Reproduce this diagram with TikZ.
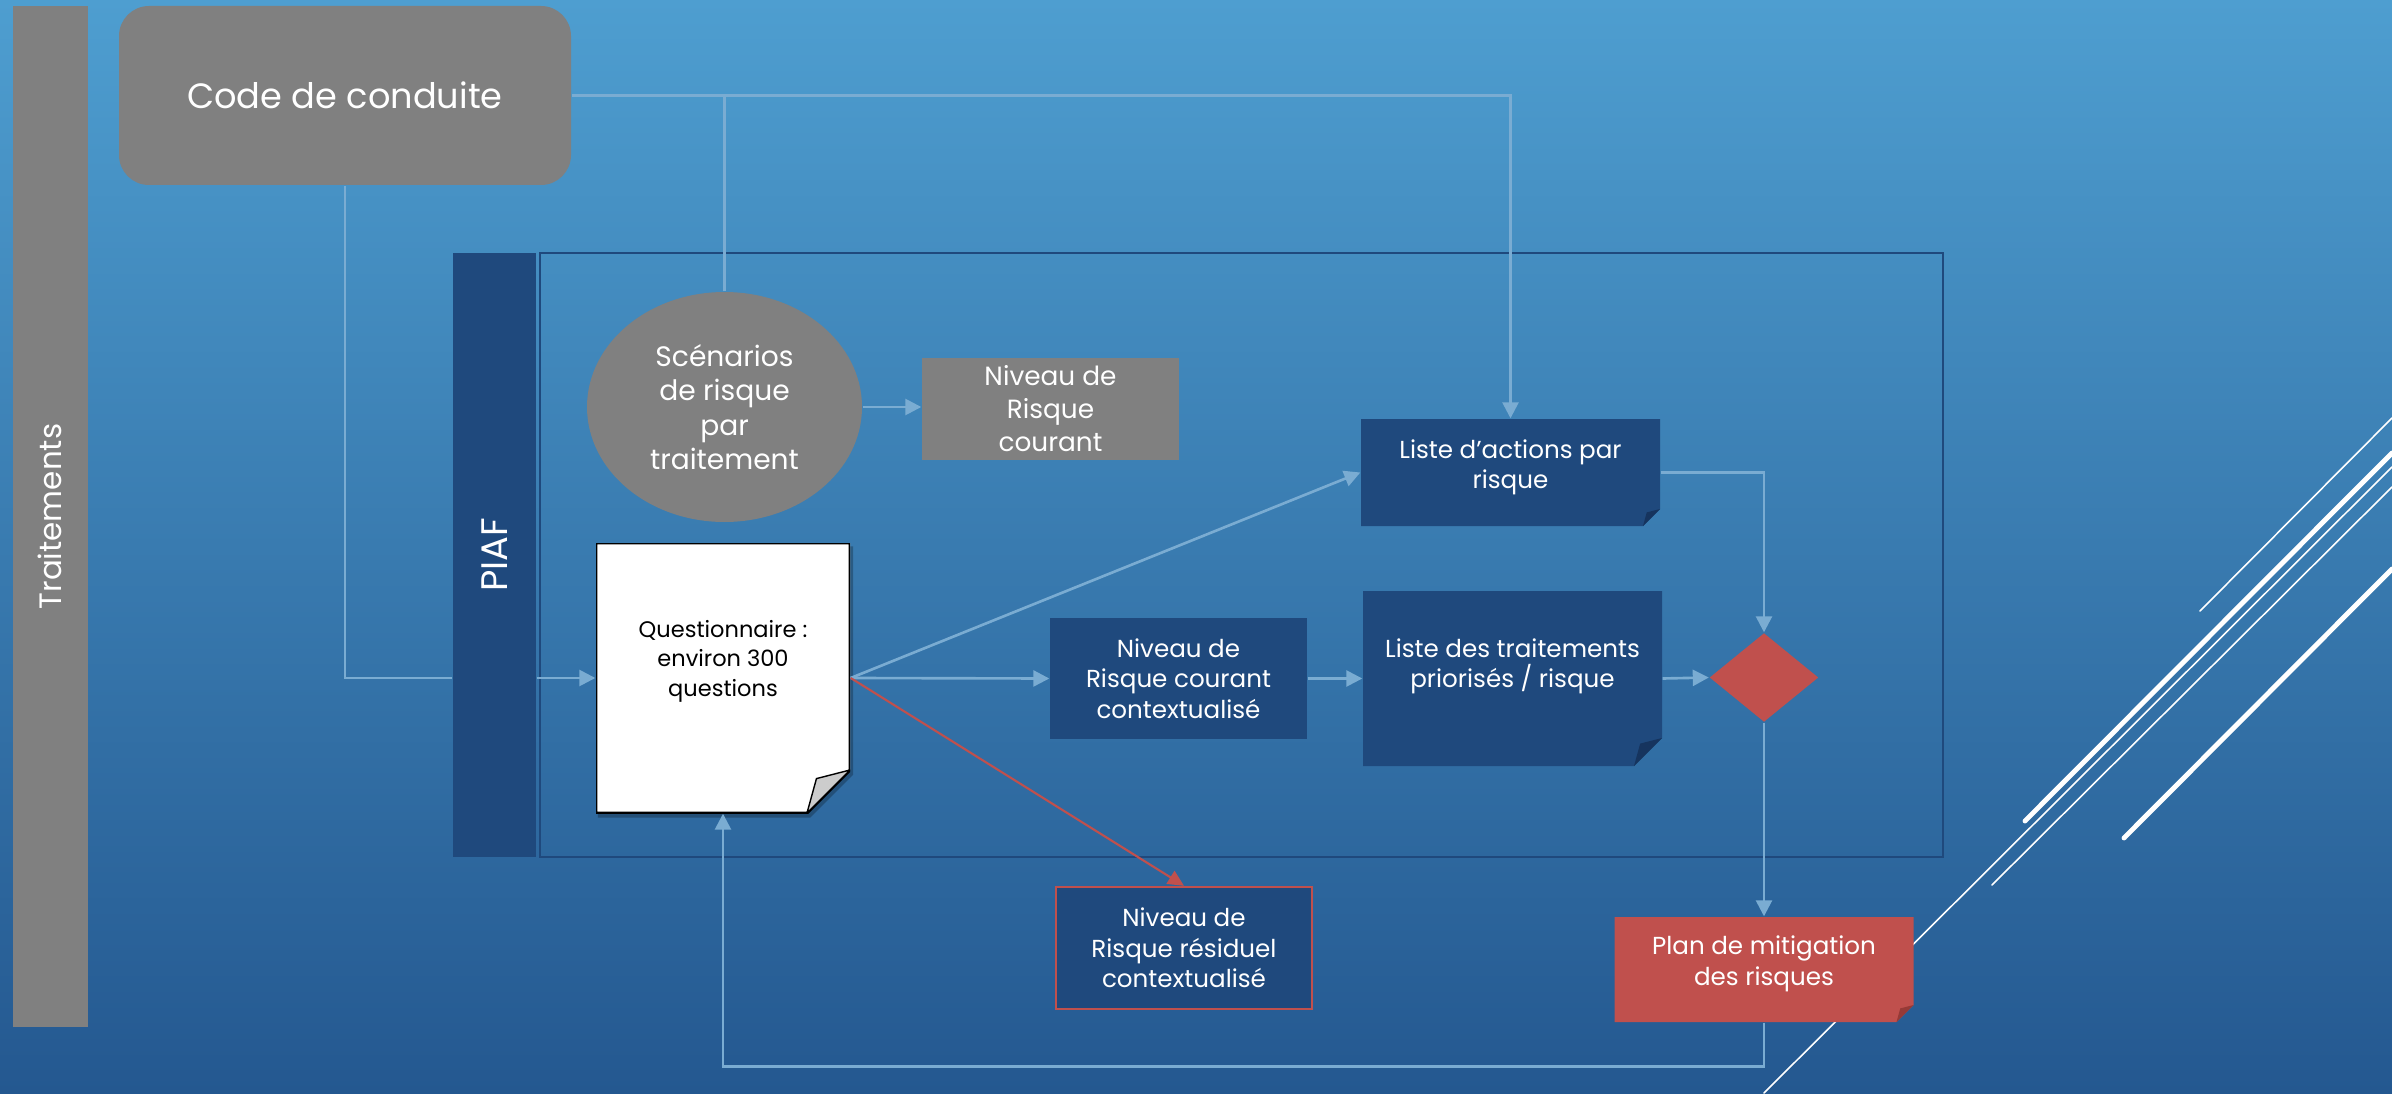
\documentclass[tikz,border=0pt]{standalone}
\usepackage{fontspec}
\setmainfont{Poppins}
\usetikzlibrary{arrows.meta,shapes.geometric,backgrounds}

\definecolor{bgtop}{RGB}{78,158,208}
\definecolor{bgmid}{RGB}{60,128,182}
\definecolor{bgbot}{RGB}{36,88,144}
\definecolor{boxgray}{RGB}{128,128,128}
\definecolor{navy}{RGB}{31,73,125}
\definecolor{navyfold}{RGB}{22,52,94}
\definecolor{brick}{RGB}{192,80,77}
\definecolor{brickfold}{RGB}{150,58,55}
\definecolor{wirecol}{RGB}{122,172,210}

\begin{document}
\begin{tikzpicture}[
    txt/.style={font=\fontsize{7}{8.7}\selectfont, text=white, align=center},
    bar/.style={rectangle, inner sep=0pt, text=white},
    graybox/.style={rectangle, fill=boxgray, txt, inner sep=0pt},
    bluebox/.style={rectangle, fill=navy, txt, inner sep=0pt},
    folded/.style n args={4}{rectangle, inner sep=0pt, path picture={
        \filldraw[fill=#1, draw=#4, line width=0.8pt]
          (path picture bounding box.north west) -- (path picture bounding box.north east)
          -- ([yshift=#3]path picture bounding box.south east)
          -- ([xshift=-#3]path picture bounding box.south east)
          -- (path picture bounding box.south west) -- cycle;
        \filldraw[fill=#2, draw=#4, line width=0.4pt]
          ([yshift=#3]path picture bounding box.south east)
          -- ([xshift=-#3]path picture bounding box.south east)
          -- ([xshift=-0.78*#3, yshift=0.8*#3]path picture bounding box.south east) -- cycle;
    }},
    wire/.style={wirecol, line width=0.75pt},
    arrow/.style={wire, -{Triangle[length=0.16cm,width=0.16cm]}},
    redarrow/.style={brick, line width=0.6pt, -{Triangle[length=0.16cm,width=0.15cm]}},
    stripe/.style={white, line cap=round}
]
    % background
    \begin{scope}[on background layer]
        \shade[top color=bgtop, middle color=bgmid, bottom color=bgbot] (0,0) rectangle (23.92,10.93);
    \end{scope}
    \useasboundingbox (0,0) rectangle (23.92,10.93);

    % stripes bottom right
    \draw[stripe, line width=0.45pt] (22.00,4.82) -- (23.92,6.75);
    \draw[stripe, line width=1.4pt] (20.25,2.72) -- (23.92,6.40);
    \draw[stripe, line width=0.45pt] (17.64,0) -- (23.92,6.26);
    \draw[stripe, line width=0.45pt] (19.92,2.08) -- (23.92,6.06);
    \draw[stripe, line width=1.4pt] (21.24,2.55) -- (23.92,5.24);

    % PIAF frame
    \draw[navy, line width=0.6pt] (5.40,2.36) rectangle (19.43,8.40);

    \node[bar, fill=boxgray, minimum width=0.75cm, minimum height=10.21cm, font=\fontsize{8.8}{10}\selectfont]
          (trait) at (0.50,5.765) {\rotatebox{90}{Traitements}};
    \node[rectangle, rounded corners=0.3cm, fill=boxgray, minimum width=4.52cm, minimum height=1.79cm,
          text=white, font=\fontsize{10}{12}\selectfont] (code) at (3.45,9.975) {Code de conduite};
    \node[bar, fill=navy, minimum width=0.83cm, minimum height=6.04cm, font=\fontsize{10.5}{12}\selectfont]
          (piaf) at (4.945,5.38) {\rotatebox{90}{PIAF}};

    \node[ellipse, fill=boxgray, minimum width=2.75cm, minimum height=2.30cm, inner sep=0pt,
          txt, font=\fontsize{8}{9.8}\selectfont] (scen) at (7.245,6.86) {Scénarios\\de risque\\par\\traitement};
    \node[graybox, font=\fontsize{7.5}{9.4}\selectfont, minimum width=2.57cm, minimum height=1.02cm]
          (cur) at (10.505,6.84) {Niveau de\\Risque\\courant};

    \node[folded={white}{black!20}{0.43cm}{black}, txt, text=black, font=\fontsize{6.4}{8.4}\selectfont,
          text depth=0.40cm, minimum width=2.54cm, minimum height=2.70cm] (quest) at (7.23,4.15)
          {Questionnaire :\\environ 300\\questions};
    \begin{scope}[on background layer]
        \fill[black, opacity=0.25, transform canvas={shift={(0.025,-0.04)}}]
          (quest.north west) -- (quest.north east) -- ([yshift=0.43cm]quest.south east)
          -- ([xshift=-0.43cm]quest.south east) -- (quest.south west) -- cycle;
    \end{scope}
    \node[bluebox, minimum width=2.57cm, minimum height=1.21cm] (ctx) at (11.785,4.145) {Niveau de\\Risque courant\\contextualisé};
    \node[folded={navy}{navyfold}{0.17cm}{none}, txt, text depth=0.17cm,
          minimum width=2.99cm, minimum height=1.07cm] (act) at (15.105,6.205) {Liste d’actions par\\risque};
    \node[folded={navy}{navyfold}{0.28cm}{none}, txt, text depth=0.31cm,
          minimum width=2.99cm, minimum height=1.75cm] (trt) at (15.125,4.145) {Liste des traitements\\priorisés / risque};
    \node[diamond, fill=brick, minimum width=1.09cm, minimum height=0.89cm, inner sep=0pt] (diam) at (17.64,4.155) {};
    \node[folded={brick}{brickfold}{0.17cm}{none}, txt, text depth=0.18cm,
          minimum width=2.99cm, minimum height=1.05cm] (plan) at (17.64,1.235) {Plan de mitigation\\des risques};
    \node[bluebox, draw=brick, line width=0.7pt, minimum width=2.56cm, minimum height=1.22cm] (resid) at (11.84,1.45)
          {Niveau de\\Risque résiduel\\contextualisé};

    % connectors
    \draw[arrow] (code.east) -| (act.north);
    \draw[wire] (scen.north) -- (scen.north |- code.east);
    \draw[wire] (code.south) |- (piaf.west |- quest.west);
    \draw[arrow] (piaf.east |- quest.west) -- (quest.west);
    \draw[arrow] (scen.east) -- (scen.east -| cur.west);
    \draw[arrow] (quest.east) -- (act.west);
    \draw[arrow] (quest.east) -- (ctx.west);
    \draw[redarrow] (quest.east) -- (resid.north);
    \draw[arrow] (ctx.east) -- (trt.west);
    \draw[arrow] (trt.east) -- (diam.west);
    \draw[arrow] (act.east) -| (diam.north);
    \draw[arrow] (diam.south) -- (plan.north);
    \draw[arrow] (plan.south) -- ++(0,-0.44) -| (quest.south);
\end{tikzpicture}
\end{document}
